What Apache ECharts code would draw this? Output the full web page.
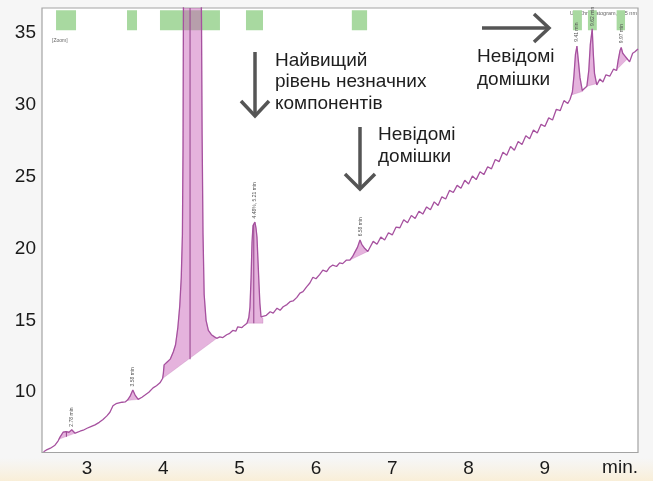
<!DOCTYPE html>
<html><head><meta charset="utf-8">
<script src="https://cdn.jsdelivr.net/npm/echarts@6/dist/echarts.min.js"></script>
<style>html,body{margin:0;padding:0;background:#f6f6f6;}#c{width:653px;height:481px;}</style>
</head><body><div id="c"></div>
<script>
// ---- data ----
const timeMin = [2.43,2.463,2.52,2.58,2.62,2.646,2.686,2.72,2.738,2.764,2.80,2.843,2.87,2.908,2.95,3.00,3.05,3.105,3.16,3.21,3.26,3.30,3.34,3.38,3.42,3.46,3.50,3.53,3.563,3.60,3.63,3.67,3.72,3.76,3.81,3.865,3.91,3.956,3.99,4.00,4.01,4.05,4.09,4.13,4.16,4.19,4.215,4.235,4.25,4.258,4.265,4.30,4.35,4.42,4.48,4.50,4.508,4.52,4.535,4.56,4.59,4.63,4.67,4.70,4.74,4.78,4.83,4.87,4.91,4.95,4.975,5.00,5.03,5.06,5.096,5.12,5.135,5.15,5.162,5.175,5.20,5.215,5.227,5.24,5.253,5.265,5.28,5.306,5.35,5.40,5.44,5.49,5.53,5.57,5.62,5.66,5.70,5.75,5.79,5.83,5.88,5.92,5.96,6.00,6.05,6.09,6.14,6.18,6.22,6.27,6.31,6.35,6.40,6.445,6.48,6.51,6.545,6.577,6.60,6.64,6.68,6.70,6.75,6.80,6.85,6.90,6.95,7.00,7.05,7.10,7.15,7.20,7.25,7.30,7.35,7.40,7.45,7.50,7.55,7.60,7.65,7.70,7.75,7.80,7.85,7.90,7.95,8.00,8.05,8.10,8.15,8.20,8.25,8.30,8.35,8.40,8.45,8.50,8.55,8.60,8.65,8.70,8.75,8.80,8.85,8.90,8.95,9.00,9.05,9.10,9.15,9.20,9.25,9.30,9.33,9.36,9.38,9.40,9.42,9.44,9.46,9.49,9.51,9.55,9.575,9.595,9.62,9.635,9.65,9.68,9.72,9.76,9.80,9.85,9.90,9.94,9.96,9.985,10.00,10.02,10.05,10.08,10.11,10.15,10.18,10.22];
const absorbance = [5.85,5.96,6.1,6.31,6.6,6.87,7.21,7.25,7.28,7.21,7.38,7.14,7.2,7.28,7.35,7.49,7.6,7.72,7.9,8.1,8.35,8.6,9.05,9.2,9.25,9.3,9.32,9.45,9.7,10.15,9.8,9.5,9.65,9.8,10.0,10.3,10.45,10.65,10.95,11.3,11.9,12.1,12.3,12.8,13.3,14.5,16.0,18.0,21.0,27.0,40,60,70,65,48,36,28,21,16.8,15.0,14.3,14.0,13.85,13.75,13.85,13.8,14.0,14.1,14.3,14.25,14.55,14.45,14.5,14.65,14.8,15.2,15.9,18.0,20.4,21.6,21.85,21.4,20.8,19.2,17.6,16.2,15.25,15.15,15.35,15.6,15.5,15.85,15.7,15.95,16.1,16.3,16.35,16.6,16.9,17.0,17.35,17.6,18.0,17.9,18.2,18.5,18.4,18.7,18.85,18.75,19.0,18.95,19.2,19.2,19.45,19.75,20.1,20.6,20.3,20.0,19.8,20.0,20.5,20.3,20.8,20.6,21.1,20.95,21.5,21.45,22.0,21.8,22.3,22.1,22.6,22.4,22.9,22.7,23.25,23.0,23.6,23.45,24.05,23.9,24.4,24.2,24.75,24.5,25.05,24.8,25.35,25.15,25.7,25.55,26.2,26.05,26.7,26.5,27.1,26.85,27.45,27.25,27.85,27.65,28.25,28.05,28.65,28.5,29.1,28.95,29.7,29.6,30.3,30.1,30.4,30.9,32.0,33.5,34.1,33.0,31.9,31.0,30.9,31.3,32.4,34.2,35.3,33.5,32.2,31.4,31.8,31.6,32.1,32.0,32.5,32.4,33.1,33.8,34.0,33.6,33.4,33.2,33.0,33.6,33.7,33.9];
// integration baselines of filled peaks: [tStart, yStart, tEnd, yEnd]
const peakBaselines = [[2.63,6.72,2.85,7.15],[3.53,9.42,3.67,9.5],[3.99,10.95,4.70,13.75],[5.096,14.8,5.306,14.8],[6.445,19.2,6.68,19.8],[9.35,30.7,9.50,30.95],[9.55,31.3,9.69,31.5],[9.93,32.4,10.08,33.2]];
// drop lines: [t, yBottom]
const dropLines = [[2.73,6.9],[4.35,12.3],[5.185,14.8]];
// fraction windows (green bars): [tStart, tEnd]
const fractionWindows = [[2.594,2.856],[3.524,3.655],[3.956,4.742],[5.083,5.306],[6.47,6.67],[9.367,9.485],[9.564,9.68],[9.94,10.05]];
const fractionBand = [35.2, 36.6];
// peak tags: [t, y]
const tagPos = [[2.80,7.6],[3.60,10.4],[5.20,22.1],[6.58,20.85],[9.42,34.4],[9.62,35.5],[10.0,34.3]];
const tagText = ['2.78 min','3.58 min','4.48%, 5.21 min','6.58 min','9.41 min','9.62 min','9.97 min'];
const xTicks = [3,4,5,6,7,8,9];
const yTicks = [10,15,20,25,30,35];

function signalAt(t){
  for(let i=1;i<timeMin.length;i++){
    if(timeMin[i]>=t){
      const t0=timeMin[i-1],t1=timeMin[i];
      return absorbance[i-1]+(absorbance[i]-absorbance[i-1])*(t-t0)/(t1-t0);
    }
  }
  return absorbance[absorbance.length-1];
}
const FONT = '"Liberation Sans", Arial, Helvetica, sans-serif';
const chart = echarts.init(document.getElementById('c'), null, {renderer:'canvas'});
const lineData = timeMin.map((t,i)=>[t,absorbance[i]]);

const option = {
  backgroundColor:'#f6f6f6',
  animation:false,
  grid:{left:42,right:15,top:8,bottom:28.5,show:true,backgroundColor:'#ffffff',borderColor:'#a3a3a3',borderWidth:1.2},
  xAxis:{type:'value',min:2.41,max:10.22,
    axisLine:{show:false},axisTick:{show:false},splitLine:{show:false},
    axisLabel:{customValues:xTicks,fontSize:19,color:'#1a1a1a',fontFamily:FONT,margin:7}},
  yAxis:{type:'value',min:5.8,max:36.75,
    axisLine:{show:false},axisTick:{show:false},splitLine:{show:false},
    axisLabel:{customValues:yTicks,fontSize:19,color:'#1a1a1a',fontFamily:FONT,margin:6}},
  series:[
    {type:'custom',z:1,silent:true,clip:true,
      data:fractionWindows.map(w=>[w[0],fractionBand[1],w[1],fractionBand[0]]),
      renderItem:function(params,api){
        const p0=api.coord([api.value(0),api.value(1)]);
        const p1=api.coord([api.value(2),api.value(3)]);
        return {type:'rect',shape:{x:p0[0],y:p0[1],width:p1[0]-p0[0],height:p1[1]-p0[1]},style:{fill:'#a8d9a0'}};
      }},
    {type:'custom',z:2,silent:true,clip:true,
      data:peakBaselines,
      renderItem:function(params,api){
        const t0=api.value(0),y0=api.value(1),t1=api.value(2),y1=api.value(3);
        const pts=[api.coord([t0,signalAt(t0)])];
        for(let i=0;i<timeMin.length;i++){
          if(timeMin[i]>t0&&timeMin[i]<t1) pts.push(api.coord([timeMin[i],absorbance[i]]));
        }
        pts.push(api.coord([t1,signalAt(t1)]));
        pts.push(api.coord([t1,y1]));
        pts.push(api.coord([t0,y0]));
        return {type:'polygon',shape:{points:pts},style:{fill:'rgba(200,96,184,0.48)',stroke:'rgba(170,80,160,0.35)',lineWidth:0.6}};
      }},
    {type:'line',z:3,silent:true,data:lineData,showSymbol:false,clip:true,
      lineStyle:{color:'#a6519f',width:1.3}},
    {type:'custom',z:4,silent:true,clip:true,
      data:dropLines,
      renderItem:function(params,api){
        const t=api.value(0);
        const a=api.coord([t,api.value(1)]);
        const b=api.coord([t,signalAt(t)]);
        return {type:'line',shape:{x1:a[0],y1:a[1],x2:b[0],y2:b[1]},style:{stroke:'#9a4a92',lineWidth:1.1}};
      }},
    {type:'custom',z:5,silent:true,
      data:tagPos,
      renderItem:function(params,api){
        const p=api.coord([api.value(0),api.value(1)]);
        return {type:'text',x:p[0],y:p[1],rotation:Math.PI/2,
          style:{text:tagText[params.dataIndex],font:'5px '+FONT,fill:'#555',align:'left',verticalAlign:'middle'}};
      }}
  ],
  graphic:[
    {type:'rect',z:-10,silent:true,shape:{x:0,y:458,width:653,height:23},
      style:{fill:new echarts.graphic.LinearGradient(0,0,0,1,[{offset:0,color:'rgba(250,238,212,0)'},{offset:1,color:'rgba(250,236,205,0.75)'}])}},
    {type:'text',x:638,y:468,style:{text:'min.',font:'19px '+FONT,fill:'#1a1a1a',align:'right',verticalAlign:'middle'}},
    {type:'text',x:52,y:41,style:{text:'[Zoom]',font:'5px '+FONT,fill:'#666',align:'left',verticalAlign:'middle'}},
    {type:'text',x:637,y:13,style:{text:'UV Chromatogram, 225 nm',font:'5.5px '+FONT,fill:'#666',align:'right',verticalAlign:'middle'}},
    // arrows
    {type:'polyline',shape:{points:[[255,52],[255,115]]},style:{stroke:'#555',lineWidth:3.5}},
    {type:'polyline',shape:{points:[[241,101],[255,116],[269,101]]},style:{stroke:'#555',lineWidth:3.5,fill:null,lineJoin:'miter'}},
    {type:'polyline',shape:{points:[[360,127],[360,188]]},style:{stroke:'#555',lineWidth:3.5}},
    {type:'polyline',shape:{points:[[345,174],[360,189],[375,174]]},style:{stroke:'#555',lineWidth:3.5,fill:null,lineJoin:'miter'}},
    {type:'polyline',shape:{points:[[482,28],[548,28]]},style:{stroke:'#555',lineWidth:3.5}},
    {type:'polyline',shape:{points:[[534,14],[549,28],[534,42]]},style:{stroke:'#555',lineWidth:3.5,fill:null,lineJoin:'miter'}},
    // annotation texts
    {type:'text',x:275,y:82,style:{text:'Найвищий\nрівень незначних\nкомпонентів',font:'19px '+FONT,lineHeight:21.5,fill:'#1e1e1e',align:'left',verticalAlign:'middle'}},
    {type:'text',x:378,y:146,style:{text:'Невідомі\nдомішки',font:'19px '+FONT,lineHeight:22,fill:'#1e1e1e',align:'left',verticalAlign:'middle'}},
    {type:'text',x:477,y:68.5,style:{text:'Невідомі\nдомішки',font:'19px '+FONT,lineHeight:23,fill:'#1e1e1e',align:'left',verticalAlign:'middle'}}
  ]
};
chart.setOption(option);
</script></body></html>
